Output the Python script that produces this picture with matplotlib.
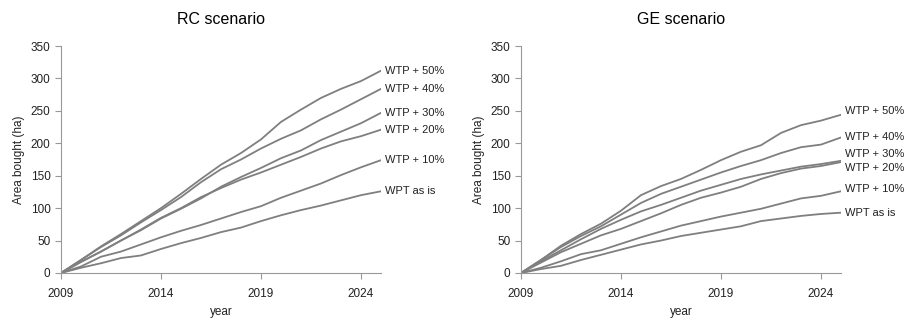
import numpy as np
import matplotlib
matplotlib.use("Agg")
import matplotlib.pyplot as plt

plt.rcParams['font.family'] = ['Liberation Sans', 'DejaVu Sans']

years = list(range(2009, 2026))
labels = ['WPT as is', 'WTP + 10%', 'WTP + 20%', 'WTP + 30%', 'WTP + 40%', 'WTP + 50%']

# RC scenario, area bought (ha) per year
rc_asis = [0, 8, 15, 23, 27, 37, 46, 54, 63, 70, 80, 89, 97, 104, 112, 120, 126]
rc_10 = [0, 10, 25, 33, 44, 55, 65, 74, 84, 94, 103, 116, 127, 138, 151, 163, 174]
rc_20 = [0, 17, 33, 50, 67, 85, 100, 117, 131, 144, 155, 167, 179, 192, 203, 211, 221]
rc_30 = [0, 17, 33, 50, 66, 84, 99, 115, 133, 148, 162, 177, 189, 205, 218, 231, 247]
rc_40 = [0, 20, 40, 58, 78, 97, 117, 140, 160, 175, 192, 207, 220, 237, 252, 268, 284]
rc_50 = [0, 20, 41, 60, 80, 100, 122, 145, 167, 185, 206, 233, 252, 270, 284, 296, 312]

# GE scenario
ge_asis = [0, 6, 11, 20, 28, 36, 44, 50, 57, 62, 67, 72, 80, 84, 88, 91, 93]
ge_10 = [0, 8, 18, 29, 35, 45, 55, 64, 73, 80, 87, 93, 99, 107, 115, 119, 126]
ge_20 = [0, 16, 32, 45, 58, 68, 80, 92, 105, 116, 124, 133, 145, 154, 161, 165, 171]
ge_30 = [0, 18, 35, 52, 68, 82, 95, 105, 116, 127, 136, 145, 152, 158, 164, 168, 173]
ge_40 = [0, 20, 40, 57, 72, 90, 108, 122, 133, 144, 155, 165, 174, 185, 194, 198, 209]
ge_50 = [0, 20, 42, 60, 76, 96, 120, 134, 145, 159, 174, 187, 197, 216, 228, 235, 244]

rc = [rc_asis, rc_10, rc_20, rc_30, rc_40, rc_50]
ge = [ge_asis, ge_10, ge_20, ge_30, ge_40, ge_50]

# vertical nudges (points) for end labels that would overlap
rc_nudge = [0, 0, 0, 0, 0, 0]
ge_nudge = [0, 2, -4, 5, 0, 3]

grey = '#7f7f7f'
fig = plt.figure(figsize=(9.06, 3.2), dpi=100)
ax1 = fig.add_axes([0.0673, 0.147, 0.3532, 0.709])
ax2 = fig.add_axes([0.575, 0.147, 0.3532, 0.709])

for ax, data, nudge, title in [(ax1, rc, rc_nudge, 'RC scenario'),
                               (ax2, ge, ge_nudge, 'GE scenario')]:
    for vals, lab, dy in zip(data, labels, nudge):
        ax.plot(years, vals, color=grey, lw=1.3)
        ax.annotate(lab, xy=(years[-1], vals[-1]), xytext=(3, dy),
                    textcoords='offset points', va='center', ha='left',
                    fontsize=8, color='#222222', annotation_clip=False)
    ax.set_xlim(2009, 2025)
    ax.set_ylim(0, 350)
    ax.set_xticks([2009, 2014, 2019, 2024])
    ax.set_yticks(range(0, 351, 50))
    for s in ['top', 'right']:
        ax.spines[s].set_visible(False)
    for s in ['left', 'bottom']:
        ax.spines[s].set_color('#999999')
        ax.spines[s].set_linewidth(0.8)
    ax.tick_params(colors='#999999', labelcolor='#222222', labelsize=8.5,
                   length=4, width=0.8)
    ax.tick_params(axis='x', pad=7)
    ax.set_xlabel('year', fontsize=8.5, color='#222222', labelpad=4)
    ax.set_ylabel('Area bought (ha)', fontsize=8.5, color='#222222', labelpad=4)
    ax.set_title(title, fontsize=11.5, pad=16)

fig.savefig('out.png', dpi=100)
